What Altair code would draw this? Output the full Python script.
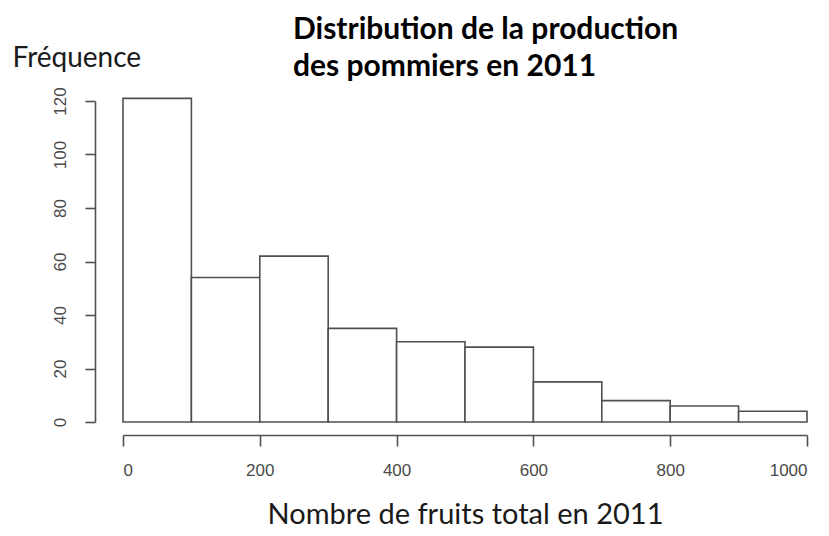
import altair as alt
import pandas as pd

# Histogram bins and counts
bin_start = [0, 100, 200, 300, 400, 500, 600, 700, 800, 900]
bin_end = [100, 200, 300, 400, 500, 600, 700, 800, 900, 1000]
counts = [121, 54, 62, 35, 30, 28, 15, 8, 6, 4]

x_ticks = [0, 200, 400, 600, 800, 1000]
y_ticks = [0, 20, 40, 60, 80, 100, 120]

title_lines = ["Distribution de la production", "des pommiers en 2011"]
x_title = "Nombre de fruits total en 2011"
y_title = "Fréquence"

df = pd.DataFrame({"start": bin_start, "end": bin_end, "count": counts})

gray = "#505050"
label_font = "Liberation Sans"
text_font = "Lato"

chart = (
    alt.Chart(df)
    .mark_bar(fill="white", stroke=gray, strokeWidth=1.6)
    .encode(
        x=alt.X(
            "start:Q",
            scale=alt.Scale(domain=[0, 1000], nice=False, zero=False),
            axis=alt.Axis(
                values=x_ticks,
                format="d",
                title=x_title,
                offset=13,
                tickSize=11,
                labelPadding=16,
                titleY=88,
                titleBaseline="alphabetic",
                titleFont=text_font,
                titleFontSize=29,
                titleFontWeight="normal",
                titleColor="#1a1a1a",
            ),
        ),
        x2="end:Q",
        y=alt.Y(
            "count:Q",
            scale=alt.Scale(domain=[0, 120], nice=False),
            axis=alt.Axis(
                values=y_ticks,
                format="d",
                title=y_title,
                offset=28,
                tickSize=10,
                labelAngle=270,
                labelAlign="center",
                labelBaseline="bottom",
                labelPadding=16,
                titleAngle=0,
                titleX=-83,
                titleY=-35,
                titleAlign="left",
                titleBaseline="alphabetic",
                titleFont=text_font,
                titleFontSize=28,
                titleFontWeight="normal",
                titleColor="#1a1a1a",
            ),
        ),
        y2=alt.datum(0),
    )
    .properties(
        width=684,
        height=321,
        autosize=alt.AutoSizeParams(type="none"),
        padding={"left": 115, "top": 93, "right": 14, "bottom": 106},
        title=alt.TitleParams(
            text=title_lines,
            anchor="start",
            frame="group",
            dx=170,
            offset=-62,
            baseline="alphabetic",
            lineHeight=37,
            font=text_font,
            fontSize=30,
            fontWeight="bold",
            color="black",
        ),
    )
    .configure_view(stroke=None)
    .configure_axis(
        grid=False,
        domainColor=gray,
        domainWidth=1.6,
        tickColor=gray,
        tickWidth=1.6,
        labelColor="#4a4a4a",
        labelFont=label_font,
        labelFontSize=17,
    )
)

chart.save("out.html", embed_options={"renderer": "svg", "actions": False})
